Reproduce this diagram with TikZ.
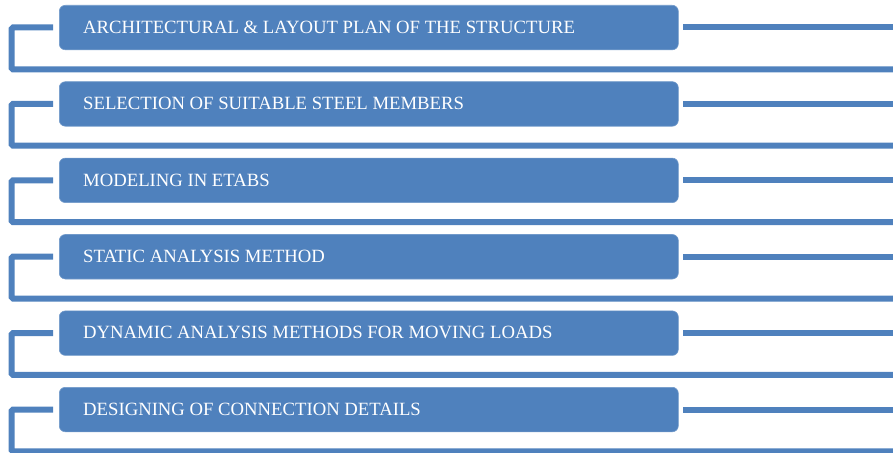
\documentclass[tikz,border=0pt]{standalone}
\usepackage{fontspec}
\setmainfont{Liberation Serif}
\definecolor{ofblue}{HTML}{4F81BD}
\begin{document}
\begin{tikzpicture}[x=1pt,y=-1pt,
  stepbox/.style={fill=ofblue, draw=ofblue!80!white, line width=0.6pt, rounded corners=6pt, minimum width=619pt, minimum height=44.5pt, inner sep=0pt, anchor=north west},
  steptext/.style={text=white, font=\fontsize{18.7}{20}\selectfont, anchor=base west, inner sep=0pt},
  link/.style={draw=ofblue, line width=6pt, rounded corners=1.5pt}]
\useasboundingbox (0,0) rectangle (893,452);
\foreach \i/\t in {0/{ARCHITECTURAL \& LAYOUT PLAN OF THE STRUCTURE},1/{SELECTION OF SUITABLE STEEL MEMBERS},2/{MODELING IN ETABS},3/{STATIC ANALYSIS METHOD},4/{DYNAMIC ANALYSIS METHODS FOR MOVING LOADS},5/{DESIGNING OF CONNECTION DETAILS}}{
  \pgfmathsetmacro{\top}{5+76.4*\i}
  \pgfmathsetmacro{\cy}{\top+22.5}
  \pgfmathsetmacro{\by}{\top+64.3}
  \node[stepbox] (b\i) at (59,\top) {};
  \node[steptext] (t\i) at (83,\cy+5.8) {\t};
  \coordinate (l\i) at (53,\cy);
  \coordinate (c\i) at (11.5,\cy);
  \coordinate (d\i) at (11.5,\by);
  \coordinate (e\i) at (893,\by);
  \coordinate (r\i) at (683,\cy);
  \coordinate (s\i) at (893,\cy);
  \draw[link] (l\i) -- (c\i) -- (d\i) -- (e\i);
  \draw[link] (r\i) -- (s\i);
}
\end{tikzpicture}
\end{document}
